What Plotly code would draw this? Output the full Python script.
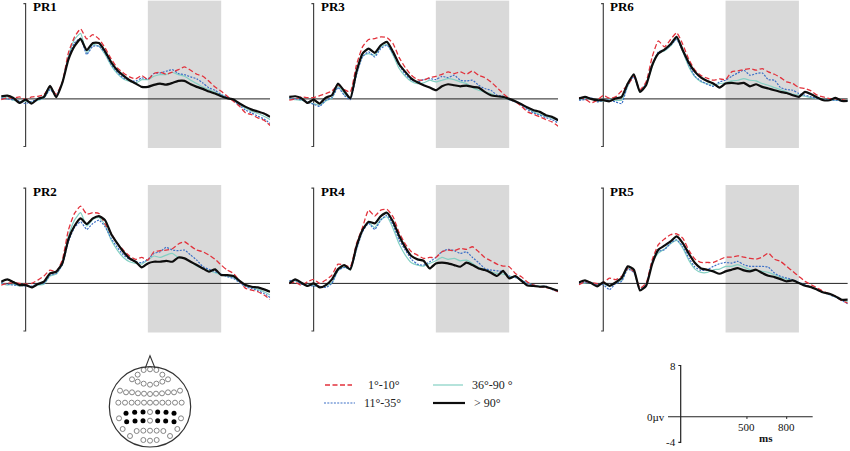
import plotly.graph_objects as go

# ---------------- data ----------------
TIME_MS = list(range(-100, 1001, 25))
CONDITIONS = ["1°-10°", "11°-35°", "36°-90 °", "> 90°"]
PANEL_NAMES = ["PR1", "PR3", "PR6", "PR2", "PR4", "PR5"]
WINDOW_MS = [500, 800]
SCALE_Y_LABELS = ["8", "0µv", "-4"]
SCALE_X_TICKS = [500, 800]
SCALE_X_UNIT = "ms"

PR1_C1 = [-0.06,0.08,0.06,0.17,-0.06,0.17,0.22,0.36,1.0,0.4,1.4,3.87,5.2,5.88,5.04,5.4,5.04,4.29,3.36,2.6,2.18,1.85,1.68,1.96,1.62,2.13,2.24,2.07,2.24,2.46,2.69,2.41,2.07,1.9,1.48,1.0,0.64,0.22,-0.2,-0.62,-1.18,-1.32,-1.6,-1.79,-2.24]
PR1_C2 = [0.08,0,-0.06,-0.2,-0.39,-0.2,-0.06,0.08,0.78,0.3,1.34,3.45,4.7,5.1,3.73,4.43,4.43,3.87,2.89,2.24,1.76,1.57,1.48,1.76,1.68,2.13,2.18,2.32,2.46,2.13,2.04,1.85,1.68,1.34,0.92,0.73,0.36,0.17,-0.11,-0.56,-0.95,-1.18,-1.46,-1.68,-2.07]
PR1_C3 = [0.17,0.06,-0.11,-0.22,-0.2,-0.28,-0.11,0.06,0.84,0.25,1.29,3.59,5.0,5.5,3.87,4.57,4.43,3.73,2.8,2.13,1.68,1.48,1.34,1.62,1.62,1.9,2.04,2.04,2.24,2.04,1.9,1.57,1.29,1.0,0.78,0.56,0.34,0.11,-0.11,-0.48,-0.78,-1.04,-1.23,-1.46,-1.74]
PR1_C4 = [0.22,0.28,0.08,-0.34,-0.06,-0.39,0,0.17,1.1,0.15,1.34,3.3,4.43,5.04,4.09,4.7,4.7,4.0,3.08,2.41,1.96,1.57,1.29,1.01,1.01,1.18,1.29,1.2,1.34,1.51,1.51,1.23,1.01,0.84,0.62,0.45,0.22,0.06,-0.06,-0.39,-0.67,-0.9,-1.06,-1.23,-1.51]

PR3_C1 = [-0.11,0,0.17,0.11,0.11,0.28,0.45,0.67,1.15,0.78,0.59,2.83,4.37,4.99,5.07,5.21,5.15,4.65,3.47,2.63,1.99,1.62,1.57,1.79,1.9,2.07,2.27,2.13,2.27,2.07,2.35,1.99,1.79,1.43,0.95,0.45,0.03,-0.25,-0.62,-1.09,-1.29,-1.51,-1.74,-1.93,-2.3]
PR3_C2 = [0.11,0,-0.06,-0.25,-0.45,-0.62,-0.11,0.11,0.95,0.31,-0.06,1.99,3.53,3.95,3.53,4.23,4.51,3.81,2.83,2.07,1.57,1.43,1.62,1.71,1.62,1.9,1.79,1.99,1.57,1.51,1.57,1.15,0.87,0.73,0.31,0.22,-0.06,-0.25,-0.53,-0.9,-1.18,-1.37,-1.57,-1.74,-2.02]
PR3_C3 = [0.03,-0.06,-0.11,-0.28,-0.39,-0.53,-0.17,0.06,1.06,0.45,0.03,2.07,3.59,3.81,3.67,4.37,4.59,3.67,2.55,1.9,1.46,1.29,1.34,1.57,1.43,1.57,1.71,1.62,1.43,1.29,0.95,0.73,0.59,0.45,0.22,0.11,-0.06,-0.25,-0.45,-0.81,-1.09,-1.29,-1.46,-1.62,-1.79]
PR3_C4 = [0.17,0.22,0.06,-0.34,-0.06,-0.39,0.11,0.31,1.29,0.67,0.05,2.27,3.81,4.23,3.87,4.51,4.79,3.95,2.91,2.27,1.71,1.4,1.15,0.95,0.73,1.06,1.23,1.15,1.06,1.12,1.01,0.95,0.59,0.31,0.22,0.17,0,-0.2,-0.45,-0.73,-0.95,-1.09,-1.37,-1.51,-1.79]

PR6_C1 = [0.11,0,-0.34,-0.11,0.28,0.06,0.17,0.67,1.15,1.9,0.78,1.43,3.53,4.87,4.37,4.99,5.55,4.59,3.31,2.41,1.96,1.74,1.57,1.68,1.62,2.27,2.35,2.46,2.55,2.41,2.55,2.27,2.07,1.79,1.43,1.29,0.95,0.87,0.67,0.31,0.17,0.03,0,-0.06,-0.17]
PR6_C2 = [-0.11,-0.06,0.11,-0.25,-0.11,-0.11,-0.25,-0.39,1.15,1.85,0.67,1.29,2.83,3.95,4.09,4.51,4.99,4.03,2.83,1.9,1.51,1.23,1.06,1.43,1.57,1.9,2.18,2.41,1.99,2.13,2.18,1.62,1.57,0.95,0.78,0.73,0.45,0.31,0.17,0.03,-0.06,-0.11,-0.11,-0.17,-0.17]
PR6_C3 = [-0.06,0.03,0,-0.17,-0.17,-0.06,-0.11,-0.11,1.06,1.99,0.56,1.23,2.69,3.87,4.03,4.43,5.07,3.95,2.69,1.85,1.43,1.29,1.15,1.29,1.34,1.51,1.57,1.71,1.57,1.51,1.29,1.15,0.95,0.78,0.59,0.39,0.31,0.22,0.11,0.03,-0.06,-0.06,-0.11,-0.11,-0.11]
PR6_C4 = [0.03,0.17,0,-0.11,-0.11,-0.2,0.03,0.17,1.29,2.07,0.59,1.15,2.83,3.81,4.15,4.59,5.21,4.09,3.03,2.27,1.79,1.51,1.29,0.95,1.29,1.34,1.29,1.34,1.06,1.23,1.01,0.87,0.73,0.59,0.5,0.31,0.17,0.59,0.39,0.11,-0.11,-0.11,0.08,-0.17,-0.17]

PR2_C1 = [-0.14,0,0.06,0,-0.06,0,0.28,0.62,1.12,0.98,1.96,4.48,5.88,6.5,5.83,5.94,5.88,4.99,4.2,3.36,2.8,2.3,2.02,2.18,1.96,2.66,2.75,2.8,2.91,3.31,3.5,3.14,2.8,2.66,2.38,2.02,1.54,1.12,0.84,0.22,-0.42,-0.56,-0.7,-0.98,-1.34]
PR2_C2 = [0.06,-0.06,-0.14,-0.14,-0.22,-0.22,-0.06,0,0.7,0.84,1.54,3.5,4.7,5.18,4.54,5.04,5.32,4.76,3.78,3.03,2.38,2.02,1.82,1.74,2.02,2.52,2.66,3.03,2.8,2.75,2.8,2.38,1.96,1.4,1.18,0.98,0.78,0.56,0.42,0.06,-0.28,-0.42,-0.62,-0.84,-1.18]
PR2_C3 = [0,-0.14,-0.06,-0.22,-0.14,-0.28,-0.14,-0.06,0.62,0.78,1.62,3.92,5.32,5.94,4.82,5.38,5.55,4.9,3.64,2.8,2.18,1.82,1.68,1.62,1.96,2.3,2.18,2.38,2.52,2.18,2.1,1.82,1.46,1.26,1.06,0.9,0.7,0.62,0.5,0.14,-0.22,-0.34,-0.5,-0.7,-0.98]
PR2_C4 = [0.14,0.34,0.11,-0.14,-0.14,-0.34,-0.06,0.14,0.84,0.98,1.68,3.7,4.82,5.46,4.99,5.46,5.66,5.32,4.15,3.36,2.66,2.1,1.82,1.34,1.68,1.82,1.82,1.9,1.82,2.18,2.1,1.82,1.54,1.26,0.98,1.18,0.7,0.7,0.62,0.22,-0.14,-0.28,-0.34,-0.5,-0.7]

PR4_C1 = [0,0.11,-0.17,0.14,0.34,0,0.28,0.7,1.62,1.54,1.4,3.31,4.7,6.16,5.66,6.16,6.22,5.6,4.26,3.31,2.66,2.38,2.1,2.18,2.18,2.66,2.8,2.75,2.94,2.86,3.08,2.66,2.18,1.9,1.62,1.46,1.4,0.84,0.56,0.11,-0.14,-0.28,-0.34,-0.45,-0.7]
PR4_C2 = [0.22,0.28,-0.06,-0.14,-0.22,-0.22,-0.34,0,1.12,1.34,1.26,2.8,4.34,5.04,4.54,5.32,5.74,4.9,3.64,2.8,2.02,1.62,1.54,1.82,2.18,2.66,2.86,2.75,2.52,2.66,2.18,1.74,1.26,1.12,1.06,0.98,0.62,0.5,0.28,0,-0.14,-0.28,-0.22,-0.5,-0.7]
PR4_C3 = [0.14,0.22,0,-0.17,-0.14,-0.28,-0.22,0.06,1.06,1.4,1.12,2.86,4.43,5.1,4.7,5.38,5.6,4.62,3.31,2.38,1.74,1.54,1.46,1.68,1.9,2.18,2.02,2.1,1.9,1.96,1.68,1.34,1.18,0.98,0.84,0.78,0.62,0.5,0.28,0,-0.14,-0.22,-0.28,-0.45,-0.62]
PR4_C4 = [0,0.34,0.06,-0.22,0,-0.34,-0.14,0.34,1.2,1.54,1.18,3.08,4.48,5.18,5.04,5.66,5.94,5.18,3.98,3.03,2.3,2.02,1.9,1.26,1.68,1.74,1.68,1.54,1.4,1.74,1.54,1.26,1.12,0.9,0.62,1.06,0.42,0.62,0.22,-0.17,-0.22,-0.28,-0.28,-0.45,-0.62]

PR5_C1 = [-0.11,0.14,0.08,-0.03,0.03,0.45,0.31,0.59,1.26,1.01,-0.39,0.03,1.99,3.25,3.73,4.09,4.17,3.81,2.77,2.04,1.76,1.76,1.76,1.99,2.21,2.21,2.32,2.21,2.1,2.04,2.21,2.55,2.04,1.85,1.43,1.01,0.59,0.17,-0.11,-0.39,-0.67,-0.87,-1.09,-1.43,-1.65]
PR5_C2 = [0.03,0.08,0.03,-0.11,-0.11,-0.53,-0.03,0.17,1.2,0.92,-0.53,-0.11,1.85,2.69,2.83,3.39,3.67,3.11,2.13,1.37,1.09,1.15,1.43,1.65,1.76,1.71,1.85,1.57,1.43,1.43,1.43,1.37,0.87,0.59,0.45,0.31,0.08,-0.11,-0.31,-0.53,-0.76,-0.95,-1.15,-1.43,-1.71]
PR5_C3 = [-0.03,0.03,0.08,-0.11,-0.03,-0.25,0.03,0.25,1.26,0.98,-0.53,-0.11,1.76,2.55,2.89,3.33,3.61,2.97,1.93,1.2,0.92,0.92,1.15,1.2,1.43,1.43,1.57,1.37,1.15,1.09,1.01,0.92,0.73,0.53,0.36,0.25,0.03,-0.14,-0.31,-0.53,-0.76,-0.92,-1.15,-1.37,-1.54]
PR5_C4 = [0.08,0.25,0.03,-0.25,0.08,-0.2,0.08,0.45,1.43,1.15,-0.59,-0.2,1.65,2.83,3.17,3.53,3.95,3.39,2.49,1.71,1.26,1.15,1.01,0.81,1.01,1.15,1.29,1.09,1.01,1.15,0.87,0.64,0.53,0.36,0.17,0.25,0.03,-0.2,-0.31,-0.53,-0.76,-0.87,-1.09,-1.37,-1.37]

PANEL_SERIES = {
    "PR1": [PR1_C1, PR1_C2, PR1_C3, PR1_C4],
    "PR3": [PR3_C1, PR3_C2, PR3_C3, PR3_C4],
    "PR6": [PR6_C1, PR6_C2, PR6_C3, PR6_C4],
    "PR2": [PR2_C1, PR2_C2, PR2_C3, PR2_C4],
    "PR4": [PR4_C1, PR4_C2, PR4_C3, PR4_C4],
    "PR5": [PR5_C1, PR5_C2, PR5_C3, PR5_C4],
}

# electrode montage (sketch coordinates), highlighted ones filled
ELECTRODES_OPEN = [
    (131,60),(150,58),(169,60),
    (113,74),(187,74),
    (96,88),(113,95),(131,101),(150,104),(169,101),(187,95),(204,88),
    (60,122),(78,127),(96,127),(114,130),(132,131),(150,132),(168,131),(186,130),(204,127),(222,127),(240,122),
    (55,158),(75,158),(95,158),(113,158),(132,158),(150,158),(168,158),(187,158),(205,158),(225,158),(245,158),
    (150,186),(57,205),(243,205),
    (150,212),(68,237),(232,237),
    (90,258),(110,243),(130,242),(150,242),(170,242),(190,243),(210,258),
    (130,270),(150,272),(170,270),
]
ELECTRODES_FILLED = [
    (78,190),(104,187),(129,186),(173,186),(198,187),(222,190),
    (80,215),(105,213),(129,212),(173,212),(197,213),(222,215),
]

# ---------------- styling / layout ----------------
W, H = 850, 451
FONT = "Liberation Serif, Times New Roman, serif"
STYLES = [
    dict(color="#e2323c", width=1.3, dash="5px,2.5px"),
    dict(color="#3b6fc6", width=1.2, dash="2px,1.3px"),
    dict(color="#84d0c3", width=1.2, dash="solid"),
    dict(color="#0d0d0d", width=2.2, dash="solid"),
]
DRAW_ORDER = [2, 1, 0, 3]

MS_PX = 0.2445
UV_PX = 11.9
COL_T0 = [25.6, 313.6, 603.3]
ROW_ZERO = [98.9, 283.4]
X_RANGE = [-100, 1000]
Y_RANGE = [-4.3, 8.3]


def px_x(p):
    return p / W


def px_y(p):
    return 1 - p / H


fig = go.Figure()
layout = dict(width=W, height=H, margin=dict(l=0, r=0, t=0, b=0),
              paper_bgcolor="white", plot_bgcolor="rgba(0,0,0,0)",
              showlegend=False, font=dict(family=FONT, color="black"))
shapes, annotations = [], []

for i, name in enumerate(PANEL_NAMES):
    r, c = divmod(i, 3)
    n = i + 1
    sfx = "" if n == 1 else str(n)
    x0 = COL_T0[c] + X_RANGE[0] * MS_PX
    x1 = COL_T0[c] + X_RANGE[1] * MS_PX
    ytop = ROW_ZERO[r] - Y_RANGE[1] * UV_PX
    ybot = ROW_ZERO[r] - Y_RANGE[0] * UV_PX
    layout["xaxis" + sfx] = dict(domain=[px_x(x0), px_x(x1)], range=X_RANGE,
                                 visible=False, fixedrange=True)
    layout["yaxis" + sfx] = dict(domain=[px_y(ybot), px_y(ytop)], range=Y_RANGE,
                                 visible=False, fixedrange=True)
    xr, yr = "x" + sfx, "y" + sfx
    shapes.append(dict(type="rect", xref=xr, yref=yr, x0=WINDOW_MS[0], x1=WINDOW_MS[1],
                       y0=-4.13, y1=8.26, fillcolor="#d9d9d9", line=dict(width=0), layer="below"))
    shapes.append(dict(type="line", xref=xr, yref=yr, x0=TIME_MS[0], x1=TIME_MS[-1], y0=0, y1=0,
                       line=dict(color="#222", width=1), layer="below"))
    shapes.append(dict(type="path", xref=xr, yref=yr, path="M -9,8 L 0,8 L 0,-4 L -9,-4",
                       line=dict(color="#444", width=1.2), layer="below"))
    annotations.append(dict(xref=xr, yref=yr, x=0, y=8, xanchor="left", yanchor="middle",
                            xshift=5, yshift=-3, showarrow=False, text="<b>%s</b>" % name,
                            font=dict(size=13, family=FONT, color="black")))
    series = PANEL_SERIES[name]
    for k in DRAW_ORDER:
        fig.add_trace(go.Scatter(x=TIME_MS, y=series[k], mode="lines", name=CONDITIONS[k],
                                 xaxis=xr, yaxis=yr, line=dict(shape="spline", smoothing=0.5, **STYLES[k]),
                                 hoverinfo="skip"))

# ---------- legend (manual 2x2) ----------
LEG = [  # (sample x0, x1, y, text x)
    (325, 352, 385, 366),
    (324, 355, 403, 362),
    (433, 463, 385, 470),
    (433, 465, 403, 471.5),
]
for k, (a, b, yy, tx) in enumerate(LEG):
    st = STYLES[k]
    shapes.append(dict(type="line", xref="paper", yref="paper", x0=px_x(a), x1=px_x(b),
                       y0=px_y(yy), y1=px_y(yy),
                       line=dict(color=st["color"], width=st["width"], dash=st["dash"])))
    annotations.append(dict(xref="paper", yref="paper", x=px_x(tx), y=px_y(yy), xanchor="left",
                            yanchor="middle", showarrow=False, text=CONDITIONS[k],
                            font=dict(size=12, family=FONT, color="#222")))

# ---------- head map (axis in sketch units) ----------
layout["xaxis7"] = dict(domain=[px_x(100), px_x(200)], range=[0, 300], visible=False, fixedrange=True)
layout["yaxis7"] = dict(domain=[px_y(451), px_y(350)], range=[303, 0], visible=False, fixedrange=True)
shapes.append(dict(type="circle", xref="x7", yref="y7", x0=28, x1=272, y0=50, y1=291,
                   line=dict(color="#333", width=1.2)))
shapes.append(dict(type="path", xref="x7", yref="y7", path="M 136,54 L 150,17 L 165,54",
                   line=dict(color="#333", width=1.1)))
fig.add_trace(go.Scatter(x=[p[0] for p in ELECTRODES_OPEN], y=[p[1] for p in ELECTRODES_OPEN],
                         mode="markers", xaxis="x7", yaxis="y7", hoverinfo="skip",
                         marker=dict(symbol="circle-open", size=5, color="#777",
                                     line=dict(width=0.9, color="#777"))))
fig.add_trace(go.Scatter(x=[p[0] for p in ELECTRODES_FILLED], y=[p[1] for p in ELECTRODES_FILLED],
                         mode="markers", xaxis="x7", yaxis="y7", hoverinfo="skip",
                         marker=dict(symbol="circle", size=5, color="#000")))

# ---------- scale bar ----------
SB_T0, SB_MS, SB_Z, SB_UV = 680.7, 0.1325, 416.7, 6.4
sx0, sx1, sy0, sy1 = 640, 830, 355, 451
layout["xaxis8"] = dict(domain=[px_x(sx0), px_x(sx1)],
                        range=[(sx0 - SB_T0) / SB_MS, (sx1 - SB_T0) / SB_MS], visible=False, fixedrange=True)
layout["yaxis8"] = dict(domain=[px_y(sy1), px_y(sy0)],
                        range=[(SB_Z - sy1) / SB_UV, (SB_Z - sy0) / SB_UV], visible=False, fixedrange=True)
shapes.append(dict(type="path", xref="x8", yref="y8", path="M -18,8 L 0,8 L 0,-4 L -18,-4",
                   line=dict(color="#222", width=1.2)))
shapes.append(dict(type="line", xref="x8", yref="y8", x0=-96, x1=996, y0=0, y1=0,
                   line=dict(color="#222", width=1.1)))
for t in SCALE_X_TICKS:
    shapes.append(dict(type="line", xref="x8", yref="y8", x0=t, x1=t, y0=0, y1=-0.35,
                       line=dict(color="#222", width=1)))
    annotations.append(dict(xref="x8", yref="y8", x=t, y=-0.4, xanchor="center", yanchor="top",
                            showarrow=False, text=str(t), font=dict(size=11, family=FONT, color="#111")))
annotations.append(dict(xref="x8", yref="y8", x=644, y=-3.4, xanchor="center", yanchor="middle",
                        showarrow=False, text="<b>%s</b>" % SCALE_X_UNIT,
                        font=dict(size=11, family=FONT, color="#111")))
annotations.append(dict(xref="x8", yref="y8", x=-18, y=8, xanchor="right", yanchor="middle",
                        showarrow=False, text=SCALE_Y_LABELS[0], font=dict(size=11, family=FONT, color="#111")))
annotations.append(dict(xref="x8", yref="y8", x=-100, y=0, xanchor="right", yanchor="middle",
                        showarrow=False, text=SCALE_Y_LABELS[1], font=dict(size=11, family=FONT, color="#111")))
annotations.append(dict(xref="x8", yref="y8", x=-18, y=-4, xanchor="right", yanchor="middle",
                        showarrow=False, text=SCALE_Y_LABELS[2], font=dict(size=11, family=FONT, color="#111")))

layout["shapes"] = shapes
layout["annotations"] = annotations
fig.update_layout(**layout)
fig.write_html("out.html", config={"displayModeBar": False, "staticPlot": True},
               post_script="document.body.style.margin='0';document.body.style.overflow='hidden';")
